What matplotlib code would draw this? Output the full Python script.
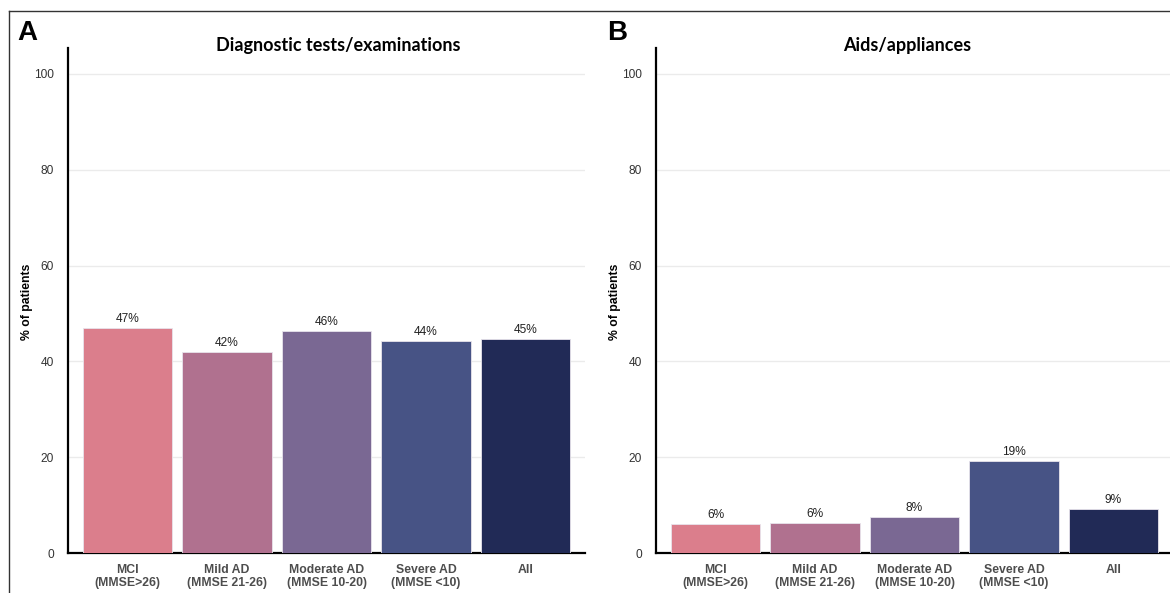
import matplotlib
matplotlib.use("Agg")
import matplotlib.pyplot as plt
from matplotlib.lines import Line2D

categories = ["MCI\n(MMSE>26)", "Mild AD\n(MMSE 21-26)", "Moderate AD\n(MMSE 10-20)",
              "Severe AD\n(MMSE <10)", "All"]
diag_values = [47.0, 42.0, 46.3, 44.3, 44.7]
diag_labels = ["47%", "42%", "46%", "44%", "45%"]
aids_values = [6.05, 6.3, 7.5, 19.2, 9.2]
aids_labels = ["6%", "6%", "8%", "19%", "9%"]
colors = ["#DB7E8C", "#B0718F", "#7A6893", "#475385", "#212A56"]
yticks = [0, 20, 40, 60, 80, 100]

W, H = 1170, 593
fig = plt.figure(figsize=(W / 100, H / 100), dpi=100)
plt.rcParams['font.family'] = ['Liberation Sans', 'DejaVu Sans']


def add_panel(left_px, values, labels, title, title_x, letter, letter_x, ylab_x):
    ax = fig.add_axes([left_px / W, 1 - 553 / H, 517 / W, (553 - 48) / H])
    x = list(range(len(values)))
    ax.bar(x, values, width=0.9, color=colors, edgecolor="#E8E4EC", linewidth=0.6, zorder=3)
    for xi, v, lab in zip(x, values, labels):
        ax.text(xi, v + 0.6, lab, ha="center", va="bottom", fontsize=8.6, color="#222222", zorder=4)
    ax.set_xlim(-0.6, 4.6)
    ax.set_ylim(0, 105.4)
    ax.set_yticks(yticks)
    ax.set_yticklabels([str(t) for t in yticks], fontsize=8.6, color="#333333")
    ax.set_xticks(x)
    ax.set_xticklabels(categories, fontsize=8.8, fontweight="bold", color="#4D4D4D", linespacing=1.1)
    ax.tick_params(axis="both", length=0)
    ax.tick_params(axis="y", pad=10)
    ax.tick_params(axis="x", pad=8)
    ax.grid(axis="y", color="#EBEBEB", linewidth=1.0, zorder=0)
    ax.set_axisbelow(True)
    for s in ["top", "right"]:
        ax.spines[s].set_visible(False)
    for s in ["left", "bottom"]:
        ax.spines[s].set_linewidth(1.6)
        ax.spines[s].set_color("black")
    fig.text(ylab_x / W, 1 - 302 / H, "% of patients", rotation=90, ha="center", va="center",
             fontsize=8.8, fontweight="bold")
    fig.text(title_x / W, 1 - 45 / H, title, ha="center", va="center",
             fontsize=13, fontweight="bold", family=["Lato", "DejaVu Sans"])
    fig.text(letter_x / W, 1 - 33 / H, letter, ha="left", va="center",
             fontsize=20, fontweight="bold")
    return ax


add_panel(68, diag_values, diag_labels, "Diagnostic tests/examinations", 338, "A", 17, 27)
add_panel(656, aids_values, aids_labels, "Aids/appliances", 907, "B", 607, 615)

fig.add_artist(Line2D([9 / W, 9 / W], [0, 1 - 11 / H], color="#333333", linewidth=1.0))
fig.add_artist(Line2D([9 / W, 1], [1 - 11 / H, 1 - 11 / H], color="#333333", linewidth=1.0))

fig.savefig("out.png", dpi=100)
